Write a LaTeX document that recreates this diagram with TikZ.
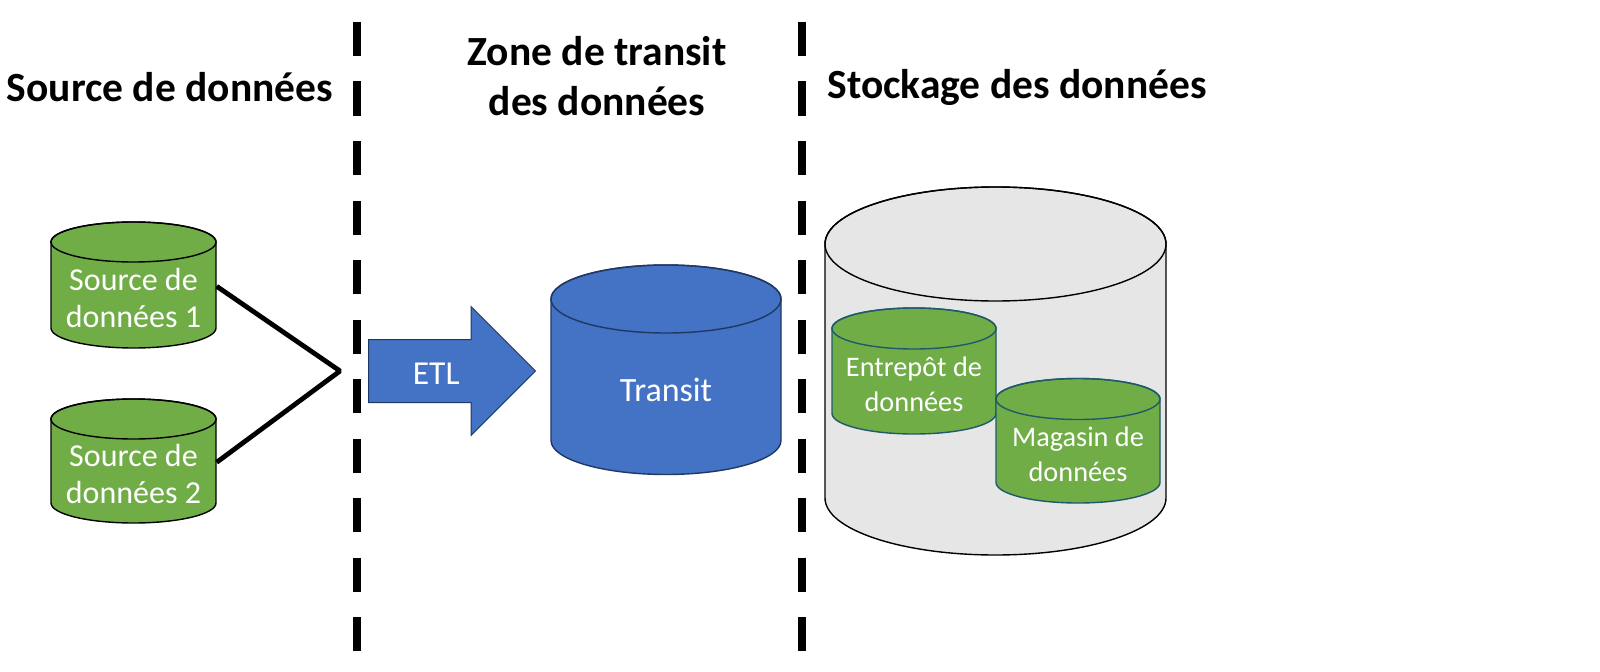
\documentclass[tikz,border=0pt]{standalone}
\usepackage{fontspec}
\setmainfont{Carlito}
\usepackage{xcolor}
\usetikzlibrary{shapes.arrows}
\definecolor{greencol}{HTML}{70AD47}
\definecolor{bluecol}{HTML}{4472C4}
\definecolor{greycol}{HTML}{E7E6E6}
\definecolor{tealline}{HTML}{1F5A6B}
\definecolor{navyline}{HTML}{1F3864}
\tikzset{
  drumbase/.style={draw,line width=1.4bp,text=white,align=center,inner sep=0pt},
  srcdrum/.style={drumbase,fill=greencol,font=\fontsize{32bp}{37.5bp}\selectfont},
  martdrum/.style={drumbase,fill=greencol,draw=tealline,font=\fontsize{28.3bp}{35bp}\selectfont},
  transitdrum/.style={drumbase,fill=bluecol,draw=navyline,font=\fontsize{34bp}{40bp}\selectfont},
  storedrum/.style={drumbase,fill=greycol},
  title/.style={font=\fontsize{41.5bp}{50bp}\selectfont\bfseries,align=center,inner sep=0pt},
  zoneline/.style={line width=8bp,dash pattern=on 34bp off 25.5bp},
  link/.style={line width=4.8bp}
}
% name, centre x, top, bottom, x radius, y radius, style, text
\newcommand{\drum}[8]{
  \filldraw[#7] ({#2-#5},{#3+#6}) -- ({#2-#5},{#4-#6}) arc (180:360:#5bp and #6bp)
    -- ({#2+#5},{#3+#6}) arc (0:180:#5bp and #6bp) -- cycle;
  \draw[#7,fill=none] (#2,{#3+#6}) ellipse [x radius=#5bp,y radius=#6bp];
  \node[#7,draw=none,fill=none,minimum width={2*#5*1bp},minimum height={(#4-#3-#6)*1bp}] (#1) at (#2,{(#3+#6+#4)/2+3}) {#8};
}
\begin{document}
\begin{tikzpicture}[x=1bp,y=-1bp]
    \useasboundingbox (0,0) rectangle (1600,672);
    %%
    \node[title] (t1) at (170,87) {Source de données};
    \node[title] (t2) at (597,76) {Zone de transit\\des données};
    \node[title] (t3) at (1017,87) {Stockage des données};
    \coordinate (z1a) at (357,22);
    \coordinate (z1b) at (357,652);
    \coordinate (z2a) at (802,22);
    \coordinate (z2b) at (802,652);
    \draw[zoneline] (z1a) -- (z1b);
    \draw[zoneline] (z2a) -- (z2b);
    %
    \drum{src1}{133.5}{222}{348}{82.5}{20}{srcdrum}{Source de\\données 1}
    \drum{src2}{133.5}{399}{523}{82.5}{20}{srcdrum}{Source de\\données 2}
    \coordinate (join) at (340,371);
    \draw[link,line join=bevel] (src1.8) -- (join) -- (src2.8);
    %
    \node[single arrow,draw=navyline,line width=1bp,fill=bluecol,text=white,anchor=tail,inner xsep=0pt,inner ysep=0pt,
      text height=44.5bp,text depth=17.5bp,
      minimum width=128bp,minimum height=167bp,single arrow head extend=33bp,single arrow head indent=0pt,
      font=\fontsize{33.5bp}{40bp}\selectfont] (etl) at (368,371) {ETL};
    \drum{transit}{666}{265}{474.5}{115}{34}{transitdrum}{Transit}
    %
    \drum{store}{995.5}{187}{555}{170.5}{57}{storedrum}{}
    \drum{dwh}{914}{308}{434}{82}{20.5}{martdrum}{Entrepôt de\\données}
    \drum{mart}{1078}{378.5}{503}{82}{20.5}{martdrum}{Magasin de\\données}
    %
    \end{tikzpicture}
\end{document}
